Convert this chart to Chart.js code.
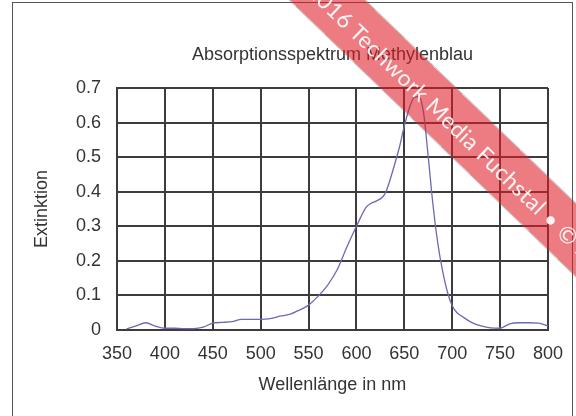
<!DOCTYPE html>
<html>
<head>
<meta charset="utf-8">
<title>Absorptionsspektrum Methylenblau</title>
<script src="https://cdn.jsdelivr.net/npm/chart.js@4.4.0/dist/chart.umd.min.js"></script>
<style>
  body { margin: 0; background: #fff; overflow: hidden; }
  #wrap { position: relative; width: 576px; height: 416px; overflow: hidden; }
  #frame {
    position: absolute; left: 12px; top: 2px; width: 559px; height: 440px;
    border: 1px solid #555; pointer-events: none;
  }
  #stamp {
    position: absolute; left: 87px; top: 80px; width: 700px; height: 52px;
    line-height: 52px; background: rgba(222, 30, 40, 0.58);
    color: rgba(255, 255, 255, 0.92); font: 22.5px Lato, "Open Sans", sans-serif;
    letter-spacing: 0.5px; white-space: nowrap; box-sizing: border-box;
    padding-left: 151px; padding-top: 14px;
    transform: rotate(44deg); transform-origin: center;
    box-shadow: 0 0 0 1px rgba(110, 110, 110, 0.35); pointer-events: none;
  }
</style>
</head>
<body>
<div id="wrap">
  <canvas id="spectrumChart" width="576" height="416"></canvas>
  <div id="frame"></div>
  <div id="stamp">© 2016 Techwork Media Fuchstal • © 2016</div>
</div>
<script>
// Werte (Wellenlänge in nm, Extinktion)
const wavelengths = [360, 370, 380, 390, 400, 410, 420, 430, 440, 450, 460, 470, 480, 490, 500,
  510, 520, 530, 540, 550, 560, 570, 580, 590, 600, 610, 615, 620, 630, 640, 645, 650, 655,
  660, 665, 670, 675, 680, 685, 690, 695, 700, 705, 710, 720, 730, 740, 750, 760, 770, 780,
  790, 800];
const extinction = [0.003, 0.012, 0.021, 0.011, 0.005, 0.005, 0.004, 0.004, 0.008, 0.02, 0.022,
  0.024, 0.031, 0.031, 0.031, 0.033, 0.04, 0.045, 0.057, 0.072, 0.098, 0.13, 0.175, 0.24, 0.3,
  0.355, 0.366, 0.372, 0.395, 0.48, 0.53, 0.59, 0.64, 0.672, 0.675, 0.63, 0.5, 0.36, 0.25,
  0.17, 0.11, 0.07, 0.05, 0.04, 0.022, 0.012, 0.006, 0.005, 0.018, 0.021, 0.021, 0.02, 0.012];

const xTickLabels = ['350', '400', '450', '500', '550', '600', '650', '700', '750', '800'];
const yTickLabels = ['0', '0.1', '0.2', '0.3', '0.4', '0.5', '0.6', '0.7'];

const fontFamily = '"Liberation Sans", Arial, sans-serif';
const textColor = '#333';
const gridColor = '#3c3c3c';

const ctx = document.getElementById('spectrumChart').getContext('2d');
new Chart(ctx, {
    type: 'line',
    data: {
        datasets: [{
            data: wavelengths.map((w, i) => ({ x: w, y: extinction[i] })),
            borderColor: '#6a6ab4',
            borderWidth: 1.3,
            pointRadius: 0,
            fill: false,
            cubicInterpolationMode: 'monotone'
        }]
    },
    options: {
        responsive: false,
        animation: false,
        layout: { padding: { left: 29, right: 24, top: 0, bottom: 0 } },
        plugins: {
            legend: { display: false },
            tooltip: { enabled: false }
        },
        scales: {
            x: {
                type: 'linear',
                min: 350,
                max: 800,
                ticks: {
                    stepSize: 50,
                    color: textColor,
                    font: { family: fontFamily, size: 18 },
                    padding: 13,
                    maxRotation: 0,
                    callback: (v, i) => xTickLabels[i]
                },
                grid: { color: gridColor, lineWidth: 2, drawTicks: false },
                border: { color: gridColor, width: 2 },
                title: {
                    display: true,
                    text: 'Wellenlänge in nm',
                    color: textColor,
                    font: { family: fontFamily, size: 18 },
                    padding: { top: 20, bottom: 20 }
                },
                afterFit: (scale) => { scale.height = 86; }
            },
            // Titel über der Zeichenfläche zentriert
            xTop: {
                type: 'linear',
                position: 'top',
                min: 350,
                max: 800,
                ticks: { display: false },
                grid: { display: false, drawTicks: false },
                border: { display: false },
                title: {
                    display: true,
                    text: 'Absorptionsspektrum Methylenblau',
                    color: textColor,
                    font: { family: fontFamily, size: 18 },
                    padding: { top: 44, bottom: 0 }
                },
                afterFit: (scale) => { scale.height = 88; }
            },
            y: {
                min: 0,
                max: 0.7,
                ticks: {
                    stepSize: 0.1,
                    color: textColor,
                    font: { family: fontFamily, size: 18 },
                    padding: 16,
                    callback: (v, i) => yTickLabels[i]
                },
                grid: { color: gridColor, lineWidth: 2, drawTicks: false },
                border: { color: gridColor, width: 2 },
                title: {
                    display: true,
                    text: 'Extinktion',
                    color: textColor,
                    font: { family: fontFamily, size: 18 },
                    padding: { top: 2, bottom: 2 }
                },
                afterFit: (scale) => { scale.width = 88; }
            }
        }
    }
});
</script>
</body>
</html>
